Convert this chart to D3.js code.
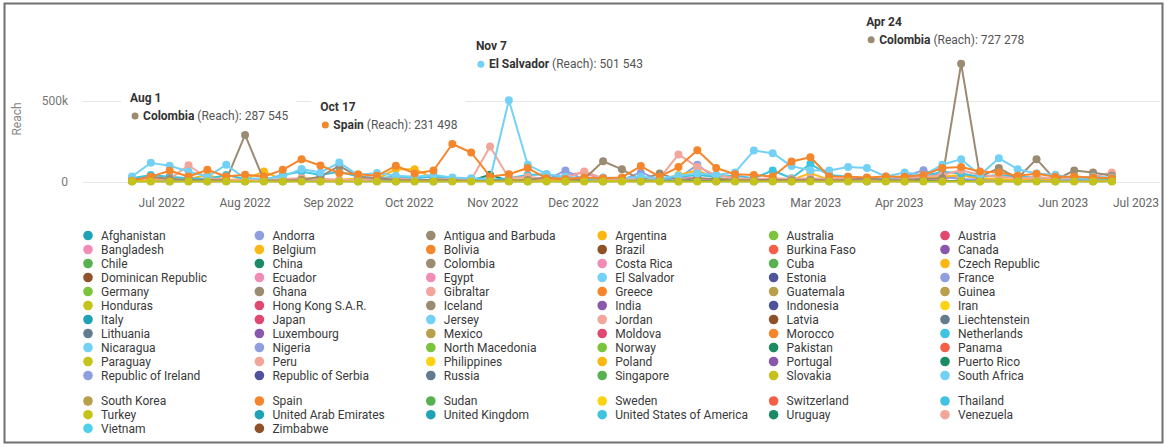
<!DOCTYPE html>
<html><head><meta charset="utf-8">
<script src="https://cdn.jsdelivr.net/npm/d3@7"></script>
<style>
body{margin:0;background:#fff;}
svg{display:block;font-family:Roboto,"Noto Sans",sans-serif;}
</style>
</head><body>
<svg id="chart" width="1167" height="447"></svg>
<script>
// ---------------- DATA ----------------
const countries = [
 "Afghanistan","Andorra","Antigua and Barbuda","Argentina","Australia","Austria",
 "Bangladesh","Belgium","Bolivia","Brazil","Burkina Faso","Canada",
 "Chile","China","Colombia","Costa Rica","Cuba","Czech Republic",
 "Dominican Republic","Ecuador","Egypt","El Salvador","Estonia","France",
 "Germany","Ghana","Gibraltar","Greece","Guatemala","Guinea",
 "Honduras","Hong Kong S.A.R.","Iceland","India","Indonesia","Iran",
 "Italy","Japan","Jersey","Jordan","Latvia","Liechtenstein",
 "Lithuania","Luxembourg","Mexico","Moldova","Morocco","Netherlands",
 "Nicaragua","Nigeria","North Macedonia","Norway","Pakistan","Panama",
 "Paraguay","Peru","Philippines","Poland","Portugal","Puerto Rico",
 "Republic of Ireland","Republic of Serbia","Russia","Singapore","Slovakia","South Africa",
 "South Korea","Spain","Sudan","Sweden","Switzerland","Thailand",
 "Turkey","United Arab Emirates","United Kingdom","United States of America","Uruguay","Venezuela",
 "Vietnam","Zimbabwe"
];
const countryColors = [
 "#1fa2b6","#8e9fe0","#9c8b73","#fbb814","#7cc43c","#e0486f",
 "#f28cb6","#fbb814","#f6862b","#8f5228","#f35f47","#8a58aa",
 "#56b250","#1c8a63","#9c8b73","#f28cb6","#56b250","#fbb814",
 "#8f5228","#f28cb6","#f28cb6","#74d1f6","#4e539b","#8e9fe0",
 "#7cc43c","#9c8b73","#f2a69a","#f6862b","#b89f4c","#b89f4c",
 "#c5c21b","#e0486f","#9c8b73","#8a58aa","#4e539b","#fbd312",
 "#1fa2b6","#e0486f","#74d1f6","#f2a69a","#8f5228","#637b8f",
 "#637b8f","#8a58aa","#b89f4c","#e0486f","#f6862b","#3ec3e0",
 "#74d1f6","#8e9fe0","#7cc43c","#7cc43c","#1c8a63","#f35f47",
 "#c5c21b","#f2a69a","#fbd312","#fbb814","#8a58aa","#1c8a63",
 "#8e9fe0","#4e539b","#637b8f","#56b250","#c5c21b","#74d1f6",
 "#b89f4c","#f6862b","#56b250","#fbd312","#f35f47","#3ec3e0",
 "#c5c21b","#1fa2b6","#1fa2b6","#3ec3e0","#1c8a63","#f2a69a",
 "#4fcfeb","#8f5228"
];

// weekly data points (Mondays)
const firstWeek = "2022-06-20";
const lastWeek = "2023-06-19";
const xDomain = ["2022-07-01", "2023-07-01"];
const monthTicks = ["2022-07-01","2022-08-01","2022-09-01","2022-10-01","2022-11-01","2022-12-01",
  "2023-01-01","2023-02-01","2023-03-01","2023-04-01","2023-05-01","2023-06-01","2023-07-01"];
const yTicks = [0, 500000];
const yTickLabels = ["0", "500k"];
const yAxisTitle = "Reach";

const reachElSalvador = [31000,115000,97000,62000,30000,103000,20000,18000,30000,77000,55000,117000,40000,52000,35000,30000,40000,25000,20000,15000,501543,103000,45000,30000,20000,25000,20000,30000,20000,35000,50000,40000,56000,191000,175000,95000,70000,68000,89000,83000,31000,56000,40000,103000,138000,40000,144000,76000,50000,41000,20000,30000,25000];
const reachColombia = [10000,30000,15000,8000,10000,8000,287545,8000,5000,10000,30000,97000,30000,20000,10000,8000,10000,8000,5000,10000,5000,10000,25000,10000,15000,125000,75000,10000,50000,10000,20000,15000,10000,8000,10000,8000,10000,8000,10000,20000,8000,10000,15000,20000,727278,30000,83000,20000,138000,10000,68000,56000,35000];
const reachSpain = [5000,30000,66000,31000,72000,31000,41000,31000,72000,138000,99000,52000,45000,35000,97000,50000,68000,231498,179000,31000,45000,83000,20000,15000,25000,20000,25000,95000,30000,89000,193000,83000,45000,40000,31000,123000,150000,31000,30000,25000,31000,30000,40000,83000,90000,62000,56000,35000,48000,30000,30000,25000,20000];
const reachPeru = [10000,20000,15000,100000,20000,10000,10000,10000,15000,20000,15000,10000,10000,15000,20000,10000,10000,15000,10000,216000,20000,30000,15000,20000,62000,20000,15000,20000,20000,167000,90000,40000,20000,15000,20000,15000,20000,15000,20000,15000,10000,15000,30000,40000,70000,40000,30000,20000,25000,20000,20000,30000,56000];
const reachNetherlands = [20000,40000,30000,20000,15000,40000,15000,10000,40000,62000,40000,60000,30000,20000,30000,20000,30000,20000,15000,10000,20000,40000,45000,20000,15000,20000,15000,20000,15000,30000,40000,30000,35000,20000,68000,20000,109000,40000,30000,20000,15000,20000,30000,60000,50000,30000,40000,30000,25000,20000,15000,20000,15000];
const reachBelgium = [5000,10000,20000,15000,40000,10000,15000,62000,10000,20000,15000,10000,20000,15000,76000,76000,20000,15000,10000,10000,10000,15000,10000,10000,20000,10000,10000,15000,10000,40000,68000,20000,10000,10000,15000,10000,52000,10000,10000,15000,10000,10000,20000,30000,40000,20000,15000,10000,20000,10000,35000,15000,10000];
const reachFrance = [3000,5000,4000,5000,3000,5000,4000,3000,5000,4000,5000,3000,5000,4000,5000,3000,4000,5000,3000,5000,4000,5000,8000,68000,10000,5000,8000,56000,10000,20000,103000,20000,8000,5000,8000,5000,10000,5000,8000,5000,10000,30000,70000,30000,15000,10000,8000,5000,8000,5000,8000,5000,5000];
const reachCostaRica = [5000,8000,5000,10000,5000,8000,5000,8000,5000,10000,8000,5000,8000,5000,10000,5000,8000,5000,8000,10000,5000,8000,10000,40000,55000,10000,8000,10000,8000,30000,20000,10000,8000,5000,8000,5000,10000,5000,8000,5000,8000,10000,20000,10000,40000,15000,10000,8000,10000,8000,5000,8000,30000];
const reachChina = [2000,3000,2000,3000,2000,3000,2000,3000,2000,3000,2000,3000,2000,3000,2000,3000,2000,3000,5000,42000,3000,2000,3000,2000,3000,2000,3000,2000,3000,2000,3000,2000,3000,2000,3000,2000,3000,2000,3000,2000,3000,2000,3000,2000,3000,2000,3000,2000,3000,2000,3000,2000,3000];
const reachTurkey = [0,0,0,0,0,0,0,0,0,0,0,0,0,0,0,0,0,0,0,0,0,0,0,0,0,0,0,0,0,0,0,0,0,0,0,0,0,0,0,0,0,0,0,0,0,0,0,0,0,0,0,0,0];

// tooltips shown on the chart
const tooltipDates = ["2022-08-01","2022-10-17","2022-11-07","2023-04-24"];
const tooltipLabels = ["Aug 1","Oct 17","Nov 7","Apr 24"];
const tooltipCountries = ["Colombia","Spain","El Salvador","Colombia"];

// ---------------- BUILD ----------------
const plotted = [
  {name:"Costa Rica", values:reachCostaRica},
  {name:"China", values:reachChina},
  {name:"France", values:reachFrance},
  {name:"Belgium", values:reachBelgium},
  {name:"Netherlands", values:reachNetherlands},
  {name:"Peru", values:reachPeru},
  {name:"Colombia", values:reachColombia},
  {name:"El Salvador", values:reachElSalvador},
  {name:"Spain", values:reachSpain},
  {name:"Turkey", values:reachTurkey}
];
const colorOf = name => countryColors[countries.indexOf(name)];
const parse = d3.utcParse("%Y-%m-%d");
const weeks = d3.utcMonday.range(parse(firstWeek), d3.utcDay.offset(parse(lastWeek), 1));

const svg = d3.select("#chart");
const plotLeft = 83, plotRight = 1160;

const x = d3.scaleUtc().domain(xDomain.map(parse)).range([161.6, 1144.2]);
const y = d3.scaleLinear().domain([0, 500000]).range([181.5, 100.5]);

// outer frame
svg.append("rect").attr("x",4.5).attr("y",3.5).attr("width",1158).attr("height",439)
  .attr("fill","#fff").attr("stroke","#707070").attr("stroke-width",2);

// gridlines
svg.append("g").selectAll("line").data(yTicks).join("line")
  .attr("x1",plotLeft).attr("x2",plotRight)
  .attr("y1",d=>Math.round(y(d))+0.5).attr("y2",d=>Math.round(y(d))+0.5)
  .attr("stroke","#e6e6e6").attr("stroke-width",1);

// y tick labels
svg.append("g").selectAll("text").data(yTicks).join("text")
  .attr("x",68).attr("y",d=>y(d)+4)
  .attr("text-anchor","end").attr("font-size",12).attr("fill","#777")
  .text((d,i)=>yTickLabels[i]);

// y title
svg.append("text").attr("transform","translate(21,119) rotate(-90)")
  .attr("text-anchor","middle").attr("font-size",12).attr("fill","#888").text(yAxisTitle);

// x tick labels (justified to stay inside the plot)
const fmtMonth = d3.utcFormat("%b %Y");
const xLab = svg.append("g").selectAll("text").data(monthTicks.map(parse)).join("text")
  .attr("y",207).attr("text-anchor","middle").attr("font-size",12).attr("fill","#666")
  .text(d=>fmtMonth(d))
  .attr("x",d=>x(d));
xLab.each(function(d){
  const w = this.getComputedTextLength();
  let cx = x(d);
  if (cx + w/2 > plotRight - 1) cx = plotRight - 1 - w/2;
  d3.select(this).attr("x",cx);
});

// series
const line = d3.line().x((d,i)=>x(weeks[i])).y(d=>y(d));
const gSeries = svg.append("g");
plotted.forEach(s=>{
  const c = colorOf(s.name);
  const g = gSeries.append("g");
  g.append("path").attr("d",line(s.values)).attr("fill","none")
    .attr("stroke",c).attr("stroke-width",2).attr("stroke-linejoin","round");
  g.selectAll("circle").data(s.values).join("circle")
    .attr("cx",(d,i)=>x(weeks[i])).attr("cy",d=>y(d)).attr("r",4).attr("fill",c);
});

// tooltips
const locale = d3.formatLocale({decimal:".",thousands:" ",grouping:[3],currency:["",""]});
const fmtNum = locale.format(",d");
const tipOffsets = [[-115,-33],[-132,-33],[-33,-50],[-95,-38]];
tooltipDates.forEach((ds,k)=>{
  const date = parse(ds);
  const idx = weeks.findIndex(w=>+w===+date);
  const s = plotted.find(p=>p.name===tooltipCountries[k]);
  const v = s.values[idx];
  const px = x(date), py = y(v);
  const tx = px + tipOffsets[k][0], ty = py + tipOffsets[k][1];
  const g = svg.append("g");
  const bg = g.append("rect").attr("fill","#fff");
  g.append("text").attr("x",tx).attr("y",ty).attr("font-size",12).attr("font-weight",700)
    .attr("fill","#333").text(tooltipLabels[k]);
  g.append("circle").attr("cx",tx+5).attr("cy",ty+14).attr("r",3.5).attr("fill",colorOf(s.name));
  const t = g.append("text").attr("x",tx+13).attr("y",ty+18).attr("font-size",12).attr("fill","#555");
  t.append("tspan").attr("font-weight",700).attr("fill","#333").text(s.name);
  t.append("tspan").text(" (Reach): " + fmtNum(v));
  const w = t.node().getComputedTextLength() + 13;
  bg.attr("x",tx-9).attr("y",ty-15).attr("width",w+17).attr("height",43);
});

// legend
const legend = svg.append("g");
countries.forEach((name,i)=>{
  const r = Math.floor(i/6), c = i%6;
  const lx = 88 + c*171.4;
  const ly = r < 11 ? 235.5 + r*14 : 401 + (r-11)*13.7;
  legend.append("circle").attr("cx",lx).attr("cy",ly).attr("r",4.8).attr("fill",countryColors[i]);
  legend.append("text").attr("x",lx+13).attr("y",ly+4.2).attr("font-size",12)
    .attr("fill","#3a3a3a").text(name);
});
</script>
</body></html>
